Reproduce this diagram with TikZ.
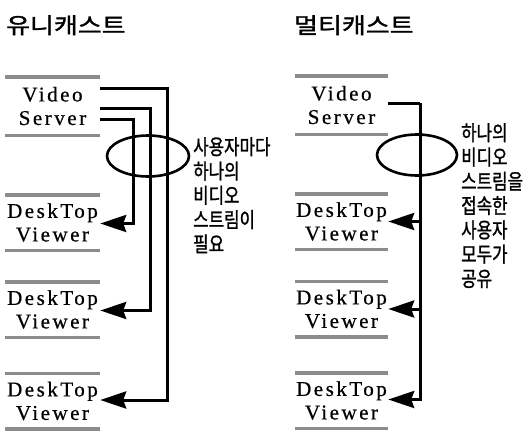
\documentclass[tikz,border=0pt]{standalone}
\usepackage{fontspec}
\usetikzlibrary{arrows.meta,shapes.geometric}
\newfontfamily\serifx[LetterSpace=12,FakeBold=0.6]{Liberation Serif}
\newfontfamily\krbody[FakeStretch=0.8,FakeBold=1.2]{Noto Sans CJK KR}
\newfontfamily\krtitle[FakeStretch=1.18,FakeBold=1.5]{Noto Sans CJK KR}
\definecolor{barcol}{gray}{0.55}
\tikzset{
  unit/.style={minimum height=59pt, inner sep=0pt, align=center,
    font=\serifx\fontsize{21}{23.5}\selectfont,
    path picture={
      \fill[barcol] (path picture bounding box.north west) rectangle ([yshift=-3.5pt]path picture bounding box.north east);
      \fill[barcol] (path picture bounding box.south west) rectangle ([yshift=3.5pt]path picture bounding box.south east);
    }},
  unitL/.style={unit, minimum width=95pt},
  unitR/.style={unit, minimum width=93pt},
  flow/.style={line width=3pt, -{Stealth[length=26pt 0 0,width=17pt 0,inset=3pt 0]}},
  feed/.style={line width=3pt},
  ring/.style={draw, ellipse, line width=2.6pt, inner sep=0pt},
  note/.style={anchor=north west, align=left, inner sep=0pt,
    font=\krbody\fontsize{21}{24.3}\selectfont},
  head/.style={anchor=north west, inner sep=0pt, font=\krtitle\fontsize{22}{24}\selectfont}
}
\begin{document}
\begin{tikzpicture}[x=1pt,y=-1pt]
\useasboundingbox (0,0) rectangle (527,434);
% titles
\node[head] (tL) at (6,15) {유니캐스트};
\node[head] (tR) at (294,15) {멀티캐스트};
% left units
\node[unitL, minimum height=62pt] (srvL) at (52.5,106) {Video\\Server};
\node[unitL] (dtL1) at (52.5,222.5) {DeskTop\\Viewer};
\node[unitL] (dtL2) at (52.5,309.5) {DeskTop\\Viewer};
\node[unitL] (dtL3) at (52.5,401) {DeskTop\\Viewer};
% right units
\node[unitR, minimum height=62pt] (srvR) at (341.5,105) {Video\\Server};
\node[unitR] (dtR1) at (341.5,221.5) {DeskTop\\Viewer};
\node[unitR] (dtR2) at (341.5,309) {DeskTop\\Viewer};
\node[unitR] (dtR3) at (341.5,400.5) {DeskTop\\Viewer};
% left connectors
\draw[flow] ([yshift=-13pt]srvL.east) -- ++(33pt,0) |- ([yshift=-1pt]dtL1.east);
\draw[flow] ([yshift=-2pt]srvL.east) -- ++(50pt,0) |- ([yshift=-1pt]dtL2.east);
\draw[flow] ([yshift=18pt]srvL.east) -- ++(67pt,0) |- ([yshift=1pt]dtL3.east);
% right connectors
\coordinate (trunk) at ([xshift=32pt,yshift=2pt]srvR.east);
\draw[feed] ([yshift=2pt]srvR.east) -- (trunk);
\draw[flow] (trunk) |- ([yshift=1pt]dtR3.east);
\draw[flow] (trunk |- dtR1.east) -- (dtR1.east);
\draw[flow] (trunk |- dtR2.east) -- (dtR2.east);
% ellipses
\node[ring, minimum width=82pt, minimum height=41pt] (eL) at (148,156) {};
\node[ring, minimum width=80pt, minimum height=41pt] (eR) at (417,155) {};
% notes
\node[note] (nL) at (193,137) {사용자마다\\하나의\\비디오\\스트림이\\필요};
\node[note] (nR) at (461,123) {하나의\\비디오\\스트림을\\접속한\\사용자\\모두가\\공유};
\end{tikzpicture}
\end{document}
